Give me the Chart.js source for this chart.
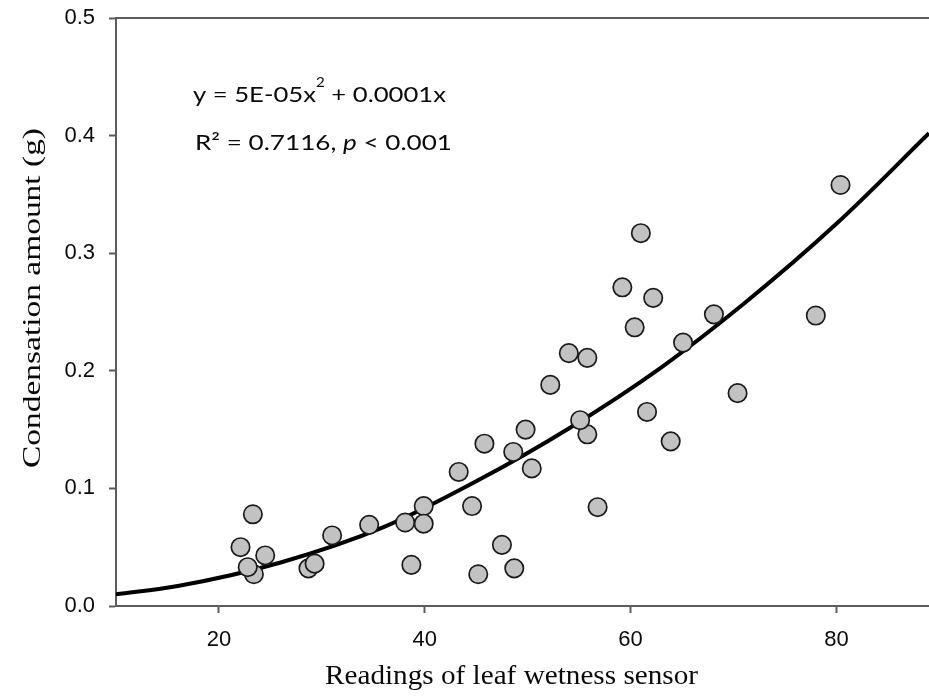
<!DOCTYPE html>
<html>
<head>
<meta charset="utf-8">
<script src="https://cdn.jsdelivr.net/npm/chart.js@4"></script>
<style>
  body { margin: 0; background: #fff; }
  #wrap { width: 929px; height: 697px; }
</style>
</head>
<body>
<div id="wrap"><canvas id="chart" width="929" height="697"></canvas></div>
<script>
// --- data ---
const sensorReadings = [22.1, 23.3, 23.4, 22.8, 24.5, 28.7, 29.3, 31.0, 34.6, 38.1,
                        38.7, 39.9, 39.9, 43.3, 44.6, 45.2, 45.8, 47.5, 48.6, 48.7,
                        49.8, 50.4, 52.2, 54.0, 55.8, 55.1, 55.8, 56.8, 59.2, 60.4,
                        61.0, 61.6, 62.2, 63.9, 65.1, 68.1, 70.4, 78.0, 80.4];
const condensation = [0.050, 0.078, 0.027, 0.033, 0.043, 0.032, 0.036, 0.060, 0.069, 0.071,
                      0.035, 0.085, 0.070, 0.114, 0.085, 0.027, 0.138, 0.052, 0.131, 0.032,
                      0.150, 0.117, 0.188, 0.215, 0.146, 0.158, 0.211, 0.084, 0.271, 0.237,
                      0.317, 0.165, 0.262, 0.140, 0.224, 0.248, 0.181, 0.247, 0.358];

// fitted curve, sampled off the figure
const fitX = [10, 16, 26, 36, 45, 54, 63, 71, 80, 89];
const fitY = [0.010, 0.017, 0.037, 0.067, 0.106, 0.151, 0.203, 0.257, 0.325, 0.402];

const xTicks = [20, 40, 60, 80];
const yTicks = [0, 0.1, 0.2, 0.3, 0.4, 0.5];

const AXIS_GRAY = '#5c5c5c';
const TEXT = '#0a0a0a';

// draw a row of text runs, stretched to a target width
function drawRuns(ctx, runs, x, y, width) {
    let total = 0;
    runs.forEach(r => { ctx.font = r.font; r.w = ctx.measureText(r.text).width; total += r.w; });
    ctx.save();
    ctx.translate(x, y);
    ctx.scale(width / total, 1);
    let cx = 0;
    runs.forEach(r => { ctx.font = r.font; ctx.fillText(r.text, cx, r.dy || 0); cx += r.w; });
    ctx.restore();
}

const decorations = {
    id: 'decorations',
    afterDraw(chart) {
        const ctx = chart.ctx;
        const area = chart.chartArea;
        ctx.save();
        // top frame line
        ctx.strokeStyle = AXIS_GRAY;
        ctx.lineWidth = 2;
        ctx.beginPath();
        ctx.moveTo(area.left, area.top);
        ctx.lineTo(area.right, area.top);
        ctx.stroke();

        ctx.fillStyle = TEXT;
        ctx.textBaseline = 'alphabetic';
        ctx.textAlign = 'left';

        // equation
        const f = '22px Lato';
        drawRuns(ctx, [
            { text: 'y = 5E-05x', font: f },
            { text: '2', font: '13px Lato', dy: -15 },
            { text: ' + 0.0001x', font: f }
        ], 193, 102, 253);
        drawRuns(ctx, [
            { text: 'R\u00B2 = 0.7116, ', font: f },
            { text: 'p', font: 'italic 22px Lato' },
            { text: ' < 0.001', font: f }
        ], 195, 150, 257);

        // axis titles
        drawRuns(ctx, [{ text: 'Readings of leaf wetness sensor', font: '27px "Liberation Serif"' }], 325, 684, 373);
        ctx.save();
        ctx.translate(39.5, 468);
        ctx.rotate(-Math.PI / 2);
        drawRuns(ctx, [{ text: 'Condensation amount (g)', font: '26px "Liberation Serif"' }], 0, 0, 340);
        ctx.restore();
        ctx.restore();
    }
};

const tickFont = { family: 'Liberation Sans', size: 22 };

function noPad(s) {
    s.paddingTop = 0; s.paddingBottom = 0; s.paddingLeft = 0; s.paddingRight = 0;
}

new Chart(document.getElementById('chart'), {
    type: 'scatter',
    data: {
        datasets: [
            {
                type: 'line',
                data: fitX.map((x, i) => ({ x: x, y: fitY[i] })),
                borderColor: '#000', borderWidth: 4, pointRadius: 0,
                cubicInterpolationMode: 'monotone', fill: false, order: 2
            },
            {
                data: sensorReadings.map((x, i) => ({ x: x, y: condensation[i] })),
                pointRadius: 9.2, borderWidth: 1.7,
                backgroundColor: '#c2c2c2', borderColor: '#1a1a1a', order: 1
            }
        ]
    },
    options: {
        responsive: false, animation: false,
        layout: { autoPadding: false, padding: { top: 18, right: 0, left: 0, bottom: 0 } },
        plugins: { legend: { display: false }, tooltip: { enabled: false } },
        scales: {
            x: {
                type: 'linear', min: 10, max: 89,
                afterBuildTicks: s => { s.ticks = xTicks.map(v => ({ value: v })); },
                afterFit: s => { s.height = 91; noPad(s); },
                grid: { drawOnChartArea: false, tickLength: 7, tickColor: AXIS_GRAY, tickWidth: 2 },
                border: { color: AXIS_GRAY, width: 2 },
                ticks: { color: TEXT, font: tickFont, padding: 14, maxRotation: 0 }
            },
            y: {
                min: 0, max: 0.5,
                afterBuildTicks: s => { s.ticks = yTicks.map(v => ({ value: v })); },
                afterFit: s => { s.width = 116; noPad(s); },
                grid: { drawOnChartArea: false, tickLength: 7, tickColor: AXIS_GRAY, tickWidth: 2 },
                border: { color: AXIS_GRAY, width: 2 },
                ticks: { color: TEXT, font: tickFont, padding: 14, callback: v => v.toFixed(1) }
            }
        }
    },
    plugins: [decorations]
});
</script>
</body>
</html>
